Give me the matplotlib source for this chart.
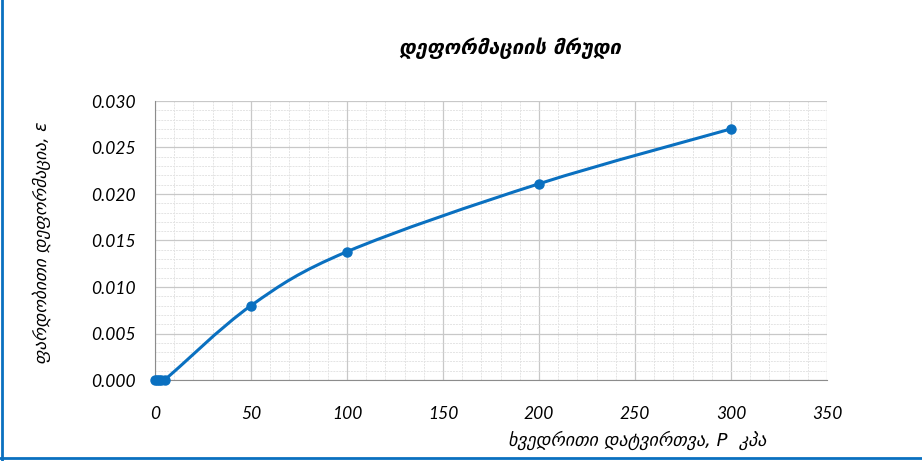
import numpy as np
import matplotlib.pyplot as plt
from matplotlib.path import Path
from matplotlib.patches import PathPatch
from matplotlib.lines import Line2D
from matplotlib.ticker import MultipleLocator

# readings: load P (kPa) vs relative strain
load = [0, 1, 2, 3, 5, 50, 100, 200, 300]
strain = [0.0, 0.0, 0.0, 0.0, 0.0, 0.0080, 0.0138, 0.0211, 0.0270]

title = 'დეფორმაციის მრუდი'
xlabel = 'ხვედრითი დატვირთვა, P  კპა'
ylabel = 'ფარდობითი დეფორმაცია, ε'

BLUE = '#0A70C0'

plt.rcParams['font.family'] = ['Lato', 'DejaVu Sans']

fig = plt.figure(figsize=(9.22, 4.61), dpi=100)
ax = fig.add_axes([155 / 922, 1 - 380 / 461, (827 - 155) / 922, (380 - 101) / 461])

ax.set_xlim(0, 350)
ax.set_ylim(0, 0.030)
ax.xaxis.set_major_locator(MultipleLocator(50))
ax.xaxis.set_minor_locator(MultipleLocator(10))
ax.yaxis.set_major_locator(MultipleLocator(0.005))
ax.yaxis.set_minor_locator(MultipleLocator(0.001))
ax.set_yticklabels([f'{v:.3f}' for v in ax.get_yticks()])
ax.grid(which='major', color='#c8c8c8', lw=0.9)
ax.grid(which='minor', color='#e4e4e4', lw=0.7, ls=(0, (2, 1)))
ax.set_axisbelow(True)
for s in ['top', 'right']:
    ax.spines[s].set_visible(False)
for s in ['left', 'bottom']:
    ax.spines[s].set_color('#8c8c8c')
ax.tick_params(which='both', length=0)
ax.tick_params(axis='x', pad=19, labelsize=12.5)
ax.tick_params(axis='y', pad=14, labelsize=12.5)
for lab in ax.get_xticklabels() + ax.get_yticklabels():
    lab.set_style('italic')

# smoothed line through the points (Catmull-Rom as cubic Bezier)
x = np.array(load, float)
y = np.array(strain, float)
verts = [(x[0], y[0])]
codes = [Path.MOVETO]
n = len(x)
for i in range(n - 1):
    p0 = np.array([x[max(i - 1, 0)], y[max(i - 1, 0)]])
    p1 = np.array([x[i], y[i]])
    p2 = np.array([x[i + 1], y[i + 1]])
    p3 = np.array([x[min(i + 2, n - 1)], y[min(i + 2, n - 1)]])
    c1 = p1 + (p2 - p0) / 6
    c2 = p2 - (p3 - p1) / 6
    verts += [tuple(c1), tuple(c2), tuple(p2)]
    codes += [Path.CURVE4] * 3
ax.add_patch(PathPatch(Path(verts, codes), fill=False, edgecolor=BLUE, lw=2.2, zorder=3))
ax.plot(load, strain, 'o', color=BLUE, ms=6.5, zorder=4, clip_on=False)

fig.text(510 / 922, 1 - 48 / 461, title, ha='center', va='center', fontsize=14.5,
         style='italic', weight='bold', family='DejaVu Sans')
fig.text(637 / 922, 1 - 440 / 461, xlabel, ha='center', va='center', fontsize=13,
         style='italic', family='DejaVu Sans')
fig.text(42 / 922, 1 - 243 / 461, ylabel, ha='center', va='center', fontsize=12.5,
         style='italic', family='DejaVu Sans', rotation=90)

# blue frame on left and bottom edges
fig.add_artist(Line2D([1.5 / 922, 1.5 / 922], [0, 1], transform=fig.transFigure, color=BLUE, lw=2))
fig.add_artist(Line2D([0, 1], [3 / 461, 3 / 461], transform=fig.transFigure, color=BLUE, lw=2))

fig.savefig('out.png', dpi=100)
